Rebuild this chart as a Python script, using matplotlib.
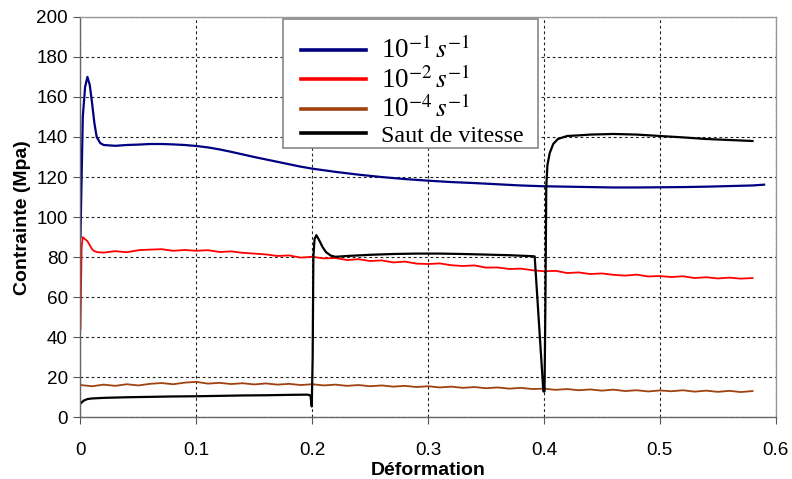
import matplotlib
matplotlib.use("Agg")
import matplotlib.pyplot as plt
from matplotlib.patches import Rectangle

# ---- data ----
blue_x = [0, 0.002, 0.004, 0.006, 0.008, 0.010, 0.012, 0.014, 0.017, 0.02, 0.03, 0.04, 0.05,
          0.06, 0.07, 0.08, 0.09, 0.10, 0.11, 0.12, 0.13, 0.14, 0.15, 0.16, 0.17, 0.18, 0.19,
          0.20, 0.22, 0.24, 0.26, 0.28, 0.30, 0.32, 0.34, 0.36, 0.38, 0.40, 0.42, 0.44, 0.46,
          0.48, 0.50, 0.52, 0.54, 0.56, 0.58, 0.59]
blue_y = [90, 150, 165, 170, 166, 157, 147, 140, 137, 136, 135.6, 136, 136.2, 136.5, 136.5,
          136.3, 136, 135.5, 134.8, 133.8, 132.6, 131.3, 130, 128.8, 127.6, 126.4, 125.2,
          124.2, 122.6, 121.2, 120, 119, 118.2, 117.5, 117, 116.4, 115.8, 115.4, 115.2, 115,
          114.8, 114.8, 114.9, 115, 115.2, 115.5, 115.8, 116.2]

red_x = [0, 0.001, 0.002, 0.004, 0.006, 0.008, 0.010, 0.012, 0.015, 0.02, 0.03, 0.04, 0.05,
         0.06, 0.07, 0.08, 0.09, 0.10, 0.11, 0.12, 0.13, 0.14, 0.15, 0.16, 0.17, 0.18, 0.19,
         0.20, 0.21, 0.22, 0.23, 0.24, 0.25, 0.26, 0.27, 0.28, 0.29, 0.30, 0.31, 0.32, 0.33,
         0.34, 0.35, 0.36, 0.37, 0.38, 0.39, 0.40, 0.41, 0.42, 0.43, 0.44, 0.45, 0.46, 0.47,
         0.48, 0.49, 0.50, 0.51, 0.52, 0.53, 0.54, 0.55, 0.56, 0.57, 0.58]
red_y = [44, 85, 90, 89, 88, 86, 84, 83, 82.5, 82.3, 83, 82.5, 83.5, 83.8, 84, 83.2, 83.6,
         83.2, 83.5, 82.6, 82.9, 82.2, 81.8, 81.4, 80.6, 80.9, 79.8, 80.2, 79.4, 79.6, 78.6,
         79, 78.1, 78.4, 77.4, 77.8, 76.8, 76.6, 76.9, 76, 75.6, 75.9, 74.8, 74.9, 74.1, 74.3,
         73.5, 73, 73.2, 72.1, 72.4, 71.6, 71.9, 71.2, 70.8, 71.3, 70.4, 70.6, 70.1, 70.5,
         69.6, 70, 69.4, 69.8, 69.3, 69.6]

brown_x = [round(0.01 * i, 2) for i in range(59)]
brown_y = [16.2, 15.6, 16.4, 15.8, 16.6, 16.0, 16.8, 17.2, 16.6, 17.4, 17.8,
           16.9, 17.3, 16.7, 17.1, 16.5, 17.0, 16.4, 16.8, 16.2, 16.6,
           16.0, 16.4, 15.8, 16.2, 15.6, 16.0, 15.4, 15.8, 15.2, 15.6,
           15.0, 15.4, 14.8, 15.2, 14.6, 15.0, 14.4, 14.8, 14.2, 14.4,
           13.8, 14.2, 13.6, 14.0, 13.4, 13.9, 13.2, 13.6, 13.0, 13.5,
           13.1, 13.6, 12.9, 13.4, 12.8, 13.3, 12.7, 13.2]

black_x = [0, 0.001, 0.003, 0.006, 0.01, 0.02, 0.04, 0.06, 0.08, 0.10, 0.12, 0.14, 0.16,
           0.18, 0.196, 0.1985, 0.1996, 0.2004, 0.201, 0.202, 0.2036, 0.206, 0.209, 0.212,
           0.216, 0.22, 0.23, 0.25, 0.27, 0.29, 0.31, 0.33, 0.35, 0.37, 0.39, 0.392, 0.3995,
           0.4005, 0.4013, 0.402, 0.403, 0.405, 0.408, 0.412, 0.42, 0.43, 0.44, 0.46, 0.48,
           0.50, 0.52, 0.54, 0.56, 0.58]
black_y = [7, 7.5, 8.5, 9.2, 9.5, 9.8, 10.1, 10.3, 10.5, 10.6, 10.8, 11.0, 11.1, 11.3, 11.4,
           11, 5.5, 30, 80, 89, 91, 88.5, 85, 82.5, 80.8, 80.2, 80.6, 81.2, 81.6, 81.8, 81.8,
           81.6, 81.3, 81, 80.5, 80.4, 13, 13, 60, 115, 126, 132, 136.5, 139, 140.5, 140.8,
           141.2, 141.5, 141.2, 140.5, 139.8, 139, 138.5, 138]

labels = [r"$\mathregular{10}^{-1}\,s^{-1}$", r"$\mathregular{10}^{-2}\,s^{-1}$",
          r"$\mathregular{10}^{-4}\,s^{-1}$", "Saut de vitesse"]
colors = ["#000080", "#FF0000", "#A0420F", "#000000"]

plt.rcParams["font.family"] = ["Liberation Sans", "DejaVu Sans"]
plt.rcParams["mathtext.fontset"] = "stix"

fig = plt.figure(figsize=(7.92, 4.79), dpi=100)
ax = fig.add_axes([0.1016, 0.1284, 0.8778, 0.8366])

ax.plot(blue_x, blue_y, color=colors[0], lw=1.6, label=labels[0])
ax.plot(red_x, red_y, color=colors[1], lw=1.3, label=labels[1])
ax.plot(brown_x, brown_y, color=colors[2], lw=1.3, label=labels[2])
ax.plot(black_x, black_y, color=colors[3], lw=1.6, label=labels[3])

ax.set_xlim(0, 0.6)
ax.set_ylim(0, 200)
ax.set_xticks([0, 0.1, 0.2, 0.3, 0.4, 0.5, 0.6])
ax.set_xticklabels(["0", "0.1", "0.2", "0.3", "0.4", "0.5", "0.6"])
ax.set_yticks(range(0, 201, 20))
ax.tick_params(axis="both", labelsize=13.6, direction="out", length=5, color="#555555",
               width=0.8)
ax.tick_params(axis="x", pad=13)
ax.tick_params(axis="y", pad=4)
ax.grid(True, color="#222222", linestyle=(0, (2.5, 2.5)), linewidth=0.8)
for s in ax.spines.values():
    s.set_color("#999999")
    s.set_linewidth(1.0)
ax.spines["left"].set_color("#666666")
ax.spines["bottom"].set_color("#666666")

ax.set_xlabel("Déformation", fontsize=14, fontweight="bold", labelpad=2)
ax.set_ylabel("Contrainte (Mpa)", fontsize=14, fontweight="bold", labelpad=4)

# legend frame drawn separately (white box with grey border)
ax.add_patch(Rectangle((0.2913, 0.672), 0.3667, 0.322, transform=ax.transAxes,
                       facecolor="white", edgecolor="#888888", linewidth=1.2, zorder=4))
leg = ax.legend(loc="upper left", bbox_to_anchor=(0.291, 0.996), frameon=False,
                prop={"family": "Liberation Serif", "size": 17.3},
                handlelength=2.7, handletextpad=0.65, labelspacing=0.08,
                borderpad=0.75, borderaxespad=0)
leg.set_zorder(5)
for t in leg.get_texts()[:3]:
    t.set_fontsize(19.5)
for h in leg.get_lines():
    h.set_linewidth(2.6)

fig.savefig("out.png", dpi=100)
